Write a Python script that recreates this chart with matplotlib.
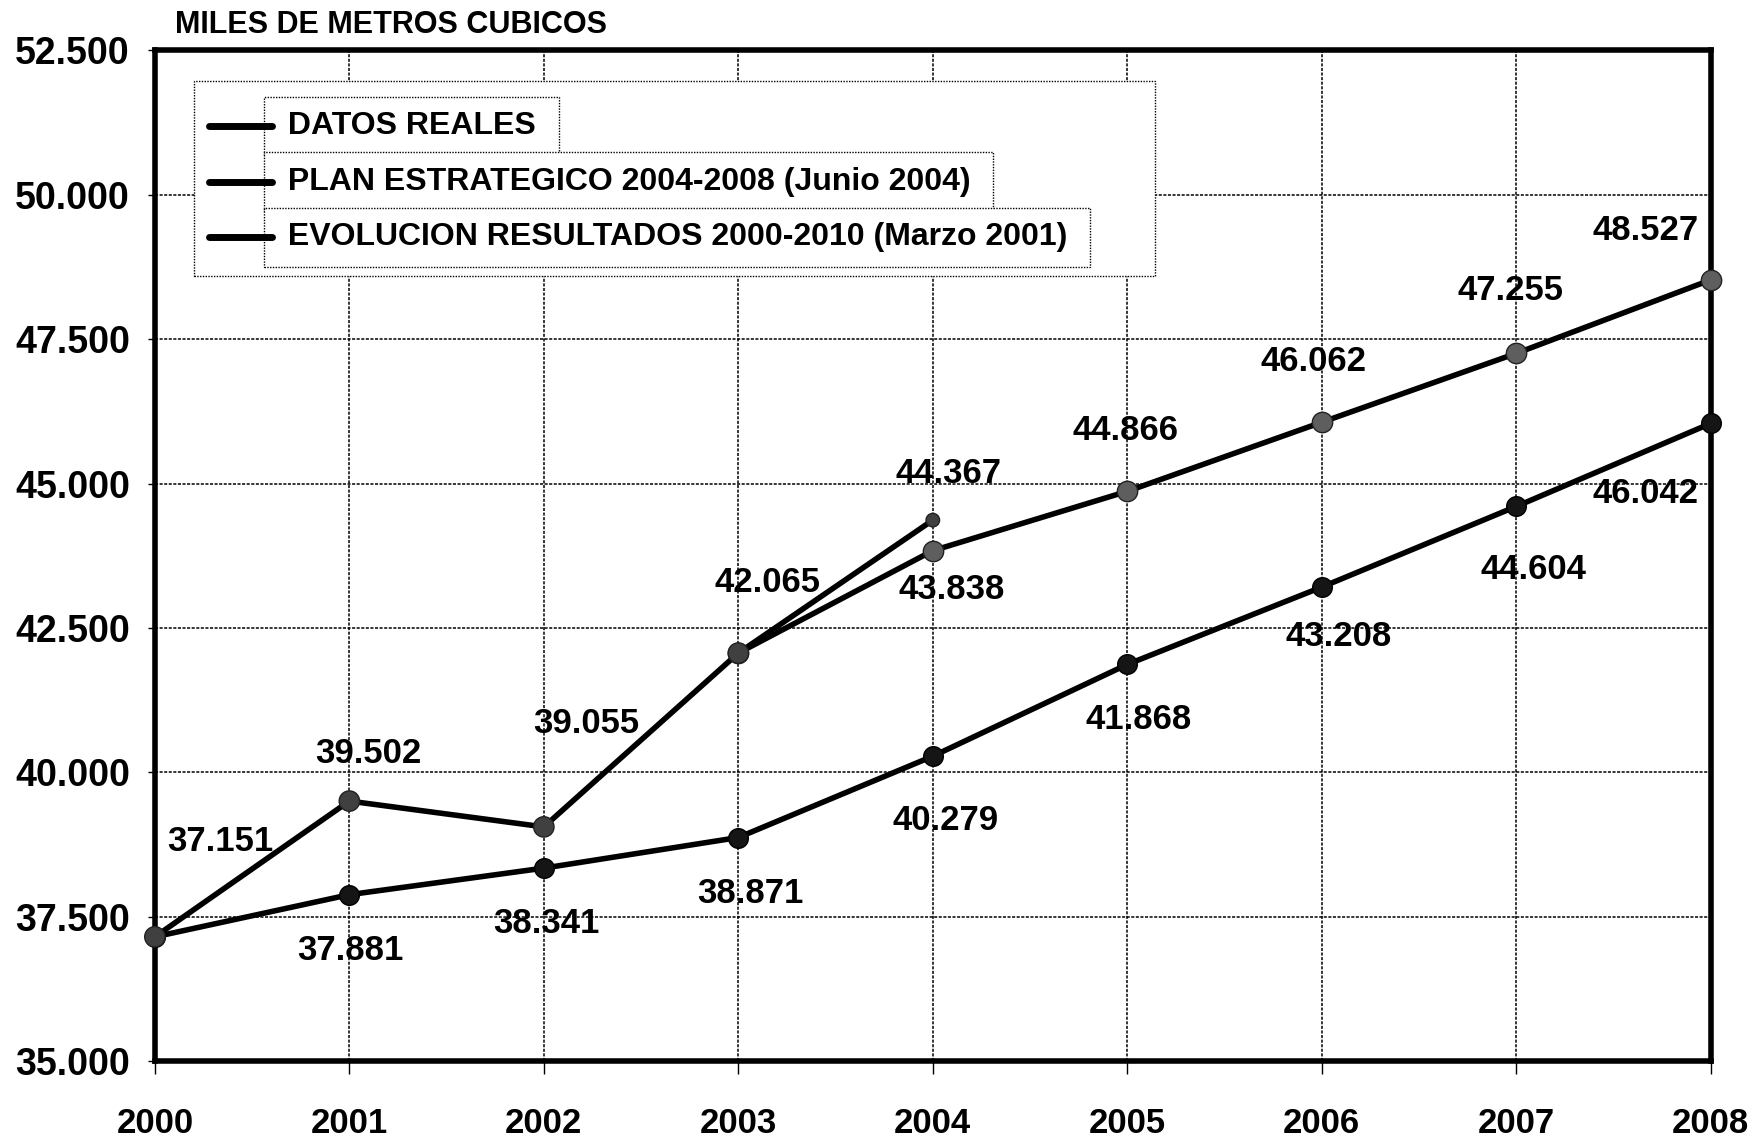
import matplotlib
matplotlib.use('Agg')
import matplotlib.pyplot as plt
from matplotlib.lines import Line2D
from matplotlib.patches import Rectangle
from matplotlib.ticker import FuncFormatter, MultipleLocator

plt.rcParams['font.family'] = ['Liberation Sans', 'DejaVu Sans']
plt.rcParams['font.weight'] = 'bold'

# data
years_real = [2000, 2001, 2002, 2003, 2004]
datos_reales = [37151, 39502, 39055, 42065, 44367]
years_plan = [2003, 2004, 2005, 2006, 2007, 2008]
plan_estrategico = [42065, 43838, 44866, 46062, 47255, 48527]
years_evol = [2000, 2001, 2002, 2003, 2004, 2005, 2006, 2007, 2008]
evolucion = [37151, 37881, 38341, 38871, 40279, 41868, 43208, 44604, 46042]

legend_labels = ['DATOS REALES',
                 'PLAN ESTRATEGICO 2004-2008 (Junio 2004)',
                 'EVOLUCION RESULTADOS 2000-2010 (Marzo 2001)']

# label offsets in pixels (dx, dy with y downward), None = no label
off_real = [(65, -95), (19, -48), (42, -103), (29, -71), (16, -47)]
off_plan = [None, (19, 39), (-2, -61), (-8, -61), (-6, -63), (-65, -49)]
off_evol = [None, (1, 56), (3, 55), (12, 56), (13, 64), (11, 55), (17, 49), (17, 63), (-65, 70)]


def fmt(v, pos=None):
    return f"{v:,.0f}".replace(",", ".")


fig = plt.figure(figsize=(17.6, 11.37), dpi=100)
ax = fig.add_axes([0.088, 0.0668, 0.884, 0.8888])

lw = 4
ax.plot(years_evol, evolucion, color='black', lw=lw, zorder=3, clip_on=False)
ax.plot(years_plan, plan_estrategico, color='black', lw=lw, zorder=3, clip_on=False)
ax.plot(years_real, datos_reales, color='black', lw=lw, zorder=3, clip_on=False)

ax.scatter(years_evol, evolucion, s=200, color='#151515', edgecolors='#000000',
           linewidths=1, zorder=4, clip_on=False)
ax.scatter(years_plan, plan_estrategico, s=215, color='#5e5e5e', edgecolors='#222222',
           linewidths=1, zorder=4, clip_on=False)
sizes = [215] * (len(years_real) - 1) + [95]
ax.scatter(years_real, datos_reales, s=sizes, color='#404040', edgecolors='#222222',
           linewidths=1, zorder=5, clip_on=False)

for xs, ys, offs in [(years_real, datos_reales, off_real),
                     (years_plan, plan_estrategico, off_plan),
                     (years_evol, evolucion, off_evol)]:
    for x, y, o in zip(xs, ys, offs):
        if o is None:
            continue
        ax.annotate(fmt(y), (x, y), xytext=(o[0], -o[1]), textcoords='offset pixels',
                    ha='center', va='center', fontsize=25, fontweight='bold', zorder=6)

ax.set_xlim(2000, 2008)
ax.set_ylim(35000, 52500)
ax.xaxis.set_major_locator(MultipleLocator(1))
ax.yaxis.set_major_locator(MultipleLocator(2500))
ax.yaxis.set_major_formatter(FuncFormatter(fmt))
ax.grid(True, color='black', lw=1.1, linestyle=(0, (2, 1)), zorder=1)
ax.set_axisbelow(True)

ax.tick_params(axis='y', labelsize=27, length=5, width=1, pad=13)
ax.tick_params(axis='x', labelsize=25, length=9, width=1, pad=24)
for lab in ax.get_xticklabels() + ax.get_yticklabels():
    lab.set_fontweight('bold')

for sp in ax.spines.values():
    sp.set_linewidth(4)
    sp.set_zorder(2)

ax.text(0.013, 1.025, 'MILES DE METROS CUBICOS', transform=ax.transAxes,
        fontsize=22, fontweight='bold', ha='left', va='center')

# legend drawn by hand: dotted outer frame, boxed entries
ax.add_patch(Rectangle((0.025, 0.777), 0.618, 0.193, transform=ax.transAxes,
                       facecolor='white', edgecolor='black', lw=1,
                       linestyle=(0, (1, 1)), zorder=7))
rows = [0.925, 0.870, 0.815]
for label, yr in zip(legend_labels, rows):
    ax.add_line(Line2D([0.035, 0.075], [yr, yr], transform=ax.transAxes, color='black',
                       lw=5, solid_capstyle='round', zorder=9, clip_on=False))
    ax.text(0.0795, yr, ' ' + label + ' ', transform=ax.transAxes, fontsize=23,
            fontweight='bold', ha='left', va='center', zorder=8,
            bbox=dict(boxstyle='square,pad=0.45', facecolor='white', edgecolor='black',
                      lw=1, linestyle=(0, (1, 1))))

fig.savefig('out.png', dpi=100, facecolor='white')
